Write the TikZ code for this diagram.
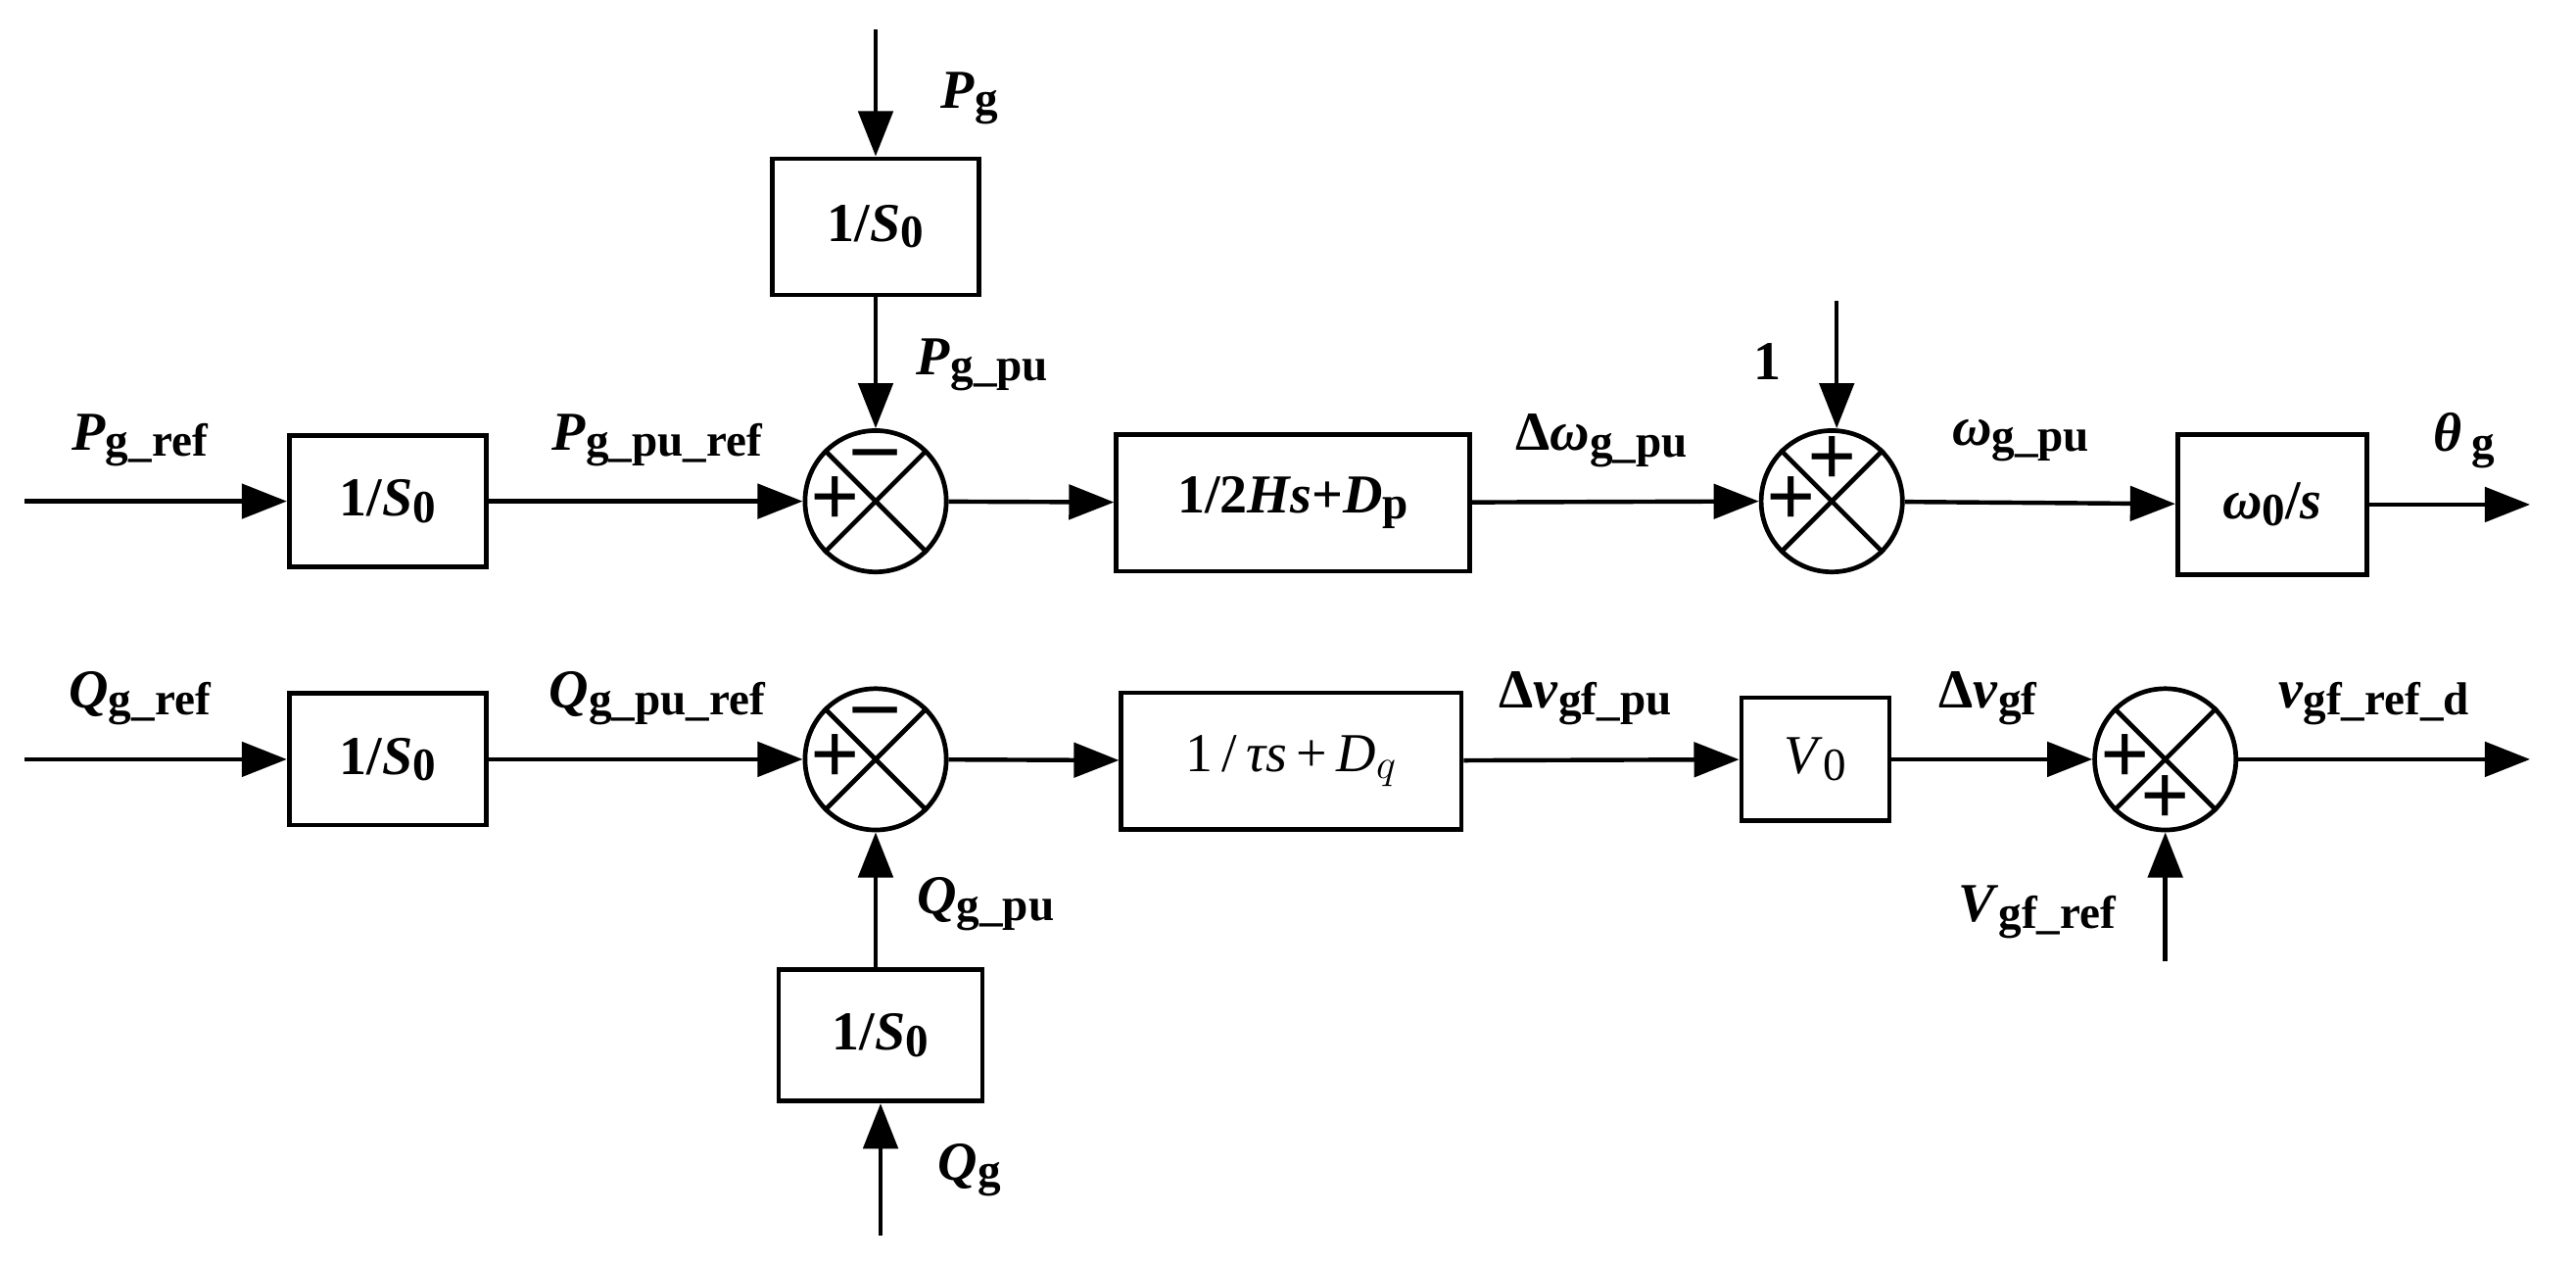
\documentclass[tikz,border=0pt]{standalone}
\usepackage{fontspec}
\setmainfont{Liberation Serif}
\usetikzlibrary{arrows.meta}
\begin{document}
\begin{tikzpicture}[x=0.02cm,y=-0.02cm,
  blk/.style={draw,line width=1.6pt,inner sep=0pt,font=\fontsize{19}{22}\selectfont\bfseries},
  sm/.style={draw,circle,line width=1.6pt,minimum size=1.72cm,inner sep=0pt},
  ar/.style={line width=1.5pt,-{Triangle[length=0.55cm,width=0.42cm]}},
  ln/.style={line width=1.6pt},
  lb/.style={font=\fontsize{19}{22}\selectfont\bfseries},
  sg/.style={font=\fontsize{30}{32}\selectfont\bfseries,inner sep=0pt}]
\useasboundingbox (0,0) rectangle (1568,768.6);
\newcommand{\sub}[1]{\raisebox{-0.25ex}{\fontsize{16}{18}\selectfont #1}}
% row 1
\coordinate (i1) at (15,305);
\node[blk,minimum width=2.4cm,minimum height=1.6cm] (b1) at (236,305) {1/\textit{S}\sub{0}};
\node[sm] (s1) at (533,305) {};
\node[blk,minimum width=2.52cm,minimum height=1.66cm] (bt) at (533,138) {1/\textit{S}\sub{0}};
\coordinate (it) at (533,18);
\node[blk,minimum width=4.3cm,minimum height=1.66cm] (b2) at (787,306) {1/2\textit{Hs}+\textit{D}\sub{p}};
\node[sm] (s2) at (1115,305) {};
\coordinate (i2) at (1118,183);
\node[blk,minimum width=2.3cm,minimum height=1.7cm] (b3) at (1383,307) {\textit{ω}\sub{0}/\textit{s}};
\coordinate (o1) at (1540,307);
% row 2
\coordinate (i3) at (15,462);
\node[blk,minimum width=2.4cm,minimum height=1.6cm] (b4) at (236,462) {1/\textit{S}\sub{0}};
\node[sm] (s3) at (533,462) {};
\node[blk,minimum width=2.48cm,minimum height=1.6cm] (bb) at (536,630) {1/\textit{S}\sub{0}};
\coordinate (ib) at (536,752);
\node[blk,minimum width=4.14cm,minimum height=1.66cm,font=\fontsize{19}{22}\selectfont] (b5) at (786,463) {1\,/\,\textit{τs}\,+\,\textit{D}$_q$};
\node[blk,minimum width=1.8cm,minimum height=1.5cm,font=\fontsize{19}{22}\selectfont] (b6) at (1105,462) {\textit{V}\sub{0}};
\node[sm] (s4) at (1318,462) {};
\coordinate (i4) at (1318,585);
\coordinate (o2) at (1540,462);
% crosses
\foreach \s in {s1,s2,s3,s4}{
 \draw[ln] (\s.north east)--(\s.south west) (\s.north west)--(\s.south east);}
% signs
\node[sg] at ([yshift=14pt]s1.center) {–};
\node[sg] at ([xshift=-14pt]s1.center) {+};
\node[sg] at ([yshift=14pt]s2.center) {+};
\node[sg] at ([xshift=-14pt]s2.center) {+};
\node[sg] at ([yshift=14pt]s3.center) {–};
\node[sg] at ([xshift=-14pt]s3.center) {+};
\node[sg] at ([xshift=-14pt]s4.center) {+};
\node[sg] at ([yshift=-14pt]s4.center) {+};
% connectors
\draw[ar] (i1)--(b1);
\draw[ar] (b1)--(s1);
\draw[ar] (it)--(bt);
\draw[ar] (bt)--(s1);
\draw[ar] (s1)--(b2);
\draw[ar] (b2)--(s1.east-|s2.west);
\draw[ar] (i2)--(s2.north-|i2);
\draw[ar] (s2)--(b3);
\draw[ar] (b3)--(o1);
\draw[ar] (i3)--(b4);
\draw[ar] (b4)--(s3);
\draw[ar] (ib)--(bb);
\draw[ar] (bb.north-|s3)--(s3);
\draw[ar] (s3)--(b5);
\draw[ar] (b5)--(b6);
\draw[ar] (b6)--(s4);
\draw[ar] (i4)--(s4);
\draw[ar] (s4)--(o2);
% labels
\node[lb] at (85,268) {\textit{P}\sub{g\_ref}};
\node[lb] at (400,268) {\textit{P}\sub{g\_pu\_ref}};
\node[lb] at (590,60) {\textit{P}\sub{g}};
\node[lb] at (598,222) {\textit{P}\sub{g\_pu}};
\node[lb] at (975,268) {Δ\textit{ω}\sub{g\_pu}};
\node[lb] at (1076,220) {1};
\node[lb] at (1230,268) {\textit{ω}\sub{g\_pu}};
\node[lb] at (1500,268) {\textit{θ}\,\sub{g}};
\node[lb] at (85,425) {\textit{Q}\sub{g\_ref}};
\node[lb] at (400,425) {\textit{Q}\sub{g\_pu\_ref}};
\node[lb] at (600,550) {\textit{Q}\sub{g\_pu}};
\node[lb] at (590,712) {\textit{Q}\sub{g}};
\node[lb] at (965,425) {Δ\textit{v}\sub{gf\_pu}};
\node[lb] at (1210,425) {Δ\textit{v}\sub{gf}};
\node[lb] at (1240,555) {\textit{V}\sub{gf\_ref}};
\node[lb] at (1445,428) {\textit{v}\sub{gf\_ref\_d}};
\end{tikzpicture}
\end{document}
